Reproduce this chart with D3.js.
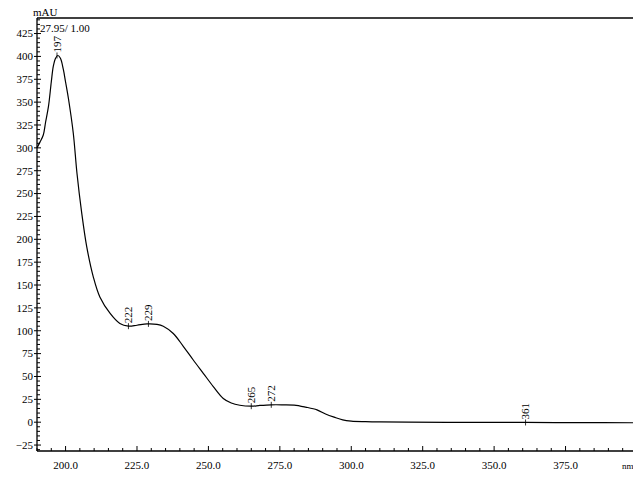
<!DOCTYPE html>
<html>
<head>
<meta charset="utf-8">
<script src="https://cdn.jsdelivr.net/npm/d3@7"></script>
<style>
  html, body { margin: 0; padding: 0; background: #fff; overflow: hidden; }
  text { font-family: "Liberation Serif", "DejaVu Serif", serif; fill: #000; }
</style>
</head>
<body>
<svg id="chart" width="633" height="477"></svg>
<script>
// ---- data ----
const wavelength = [190, 191, 192.2, 193, 194, 195, 195.7, 196.5, 197.3, 198.2, 199.2, 200, 201, 202.7, 204, 205.6, 207.4, 209.7, 212, 215.6, 219, 222, 225, 228.5, 232, 234.2, 237.7, 241.2, 244.7, 248.2, 251.7, 255.2, 258, 261, 265, 268, 272, 276, 280, 284, 288, 291, 294, 297, 300, 305, 310, 320, 340, 361, 380, 400];
const absorbance = [300, 306, 314, 328, 345, 372, 389, 398, 401, 398, 386, 372, 354, 316, 272, 230, 192, 159, 137, 119, 108, 105, 106, 107.5, 107, 105, 97, 83, 68, 53.5, 39, 26, 21, 18.5, 17.5, 18.3, 19, 19, 18.7, 16.5, 13.5, 9, 5.5, 2.5, 1.2, 0.6, 0.3, 0.1, -0.2, -0.3, -0.5, -0.6];
const peakLabels = [197, 222, 229, 265, 272, 361];
const peakValues = [401, 105, 107.5, 17.5, 19, -0.3];
const xTickValues = [200, 225, 250, 275, 300, 325, 350, 375];
const yTickValues = [-25, 0, 25, 50, 75, 100, 125, 150, 175, 200, 225, 250, 275, 300, 325, 350, 375, 400, 425];
const yUnit = "mAU";
const xUnit = "nm";
const headerText = "27.95/ 1.00";

// ---- layout ----
const svg = d3.select("#chart");
const mLeft = 37, mTop = 18, mBottom = 451;
const x = d3.scaleLinear().domain([190, 400]).range([mLeft, mLeft + 210 * 2.857]);
const y = d3.scaleLinear().domain([-31.5, 442]).range([mBottom, mTop]);

// axes frame
svg.append("line").attr("x1", mLeft).attr("x2", 633).attr("y1", mTop).attr("y2", mTop)
  .attr("stroke", "#000").attr("stroke-width", 1.3);
svg.append("line").attr("x1", mLeft).attr("x2", 633).attr("y1", mBottom).attr("y2", mBottom)
  .attr("stroke", "#000").attr("stroke-width", 1.3);
svg.append("line").attr("x1", mLeft).attr("x2", mLeft).attr("y1", mTop).attr("y2", mBottom)
  .attr("stroke", "#000").attr("stroke-width", 1.3);

// x ticks (inward)
const xMinor = d3.range(190, 401, 5);
svg.append("g").selectAll("line").data(xMinor).join("line")
  .attr("x1", d => x(d)).attr("x2", d => x(d))
  .attr("y1", mBottom).attr("y2", d => (d % 25 === 0) ? mBottom - 5 : mBottom - 3)
  .attr("stroke", "#000").attr("stroke-width", 1);
svg.append("g").selectAll("text").data(xTickValues).join("text")
  .attr("x", d => x(d)).attr("y", mBottom + 18)
  .attr("text-anchor", "middle").attr("font-size", 11)
  .text(d => d3.format(".1f")(d));
svg.append("text").attr("x", 622).attr("y", mBottom + 18).attr("font-size", 9).text(xUnit);

// y ticks
const yMinor = d3.range(-30, 441, 5);
svg.append("g").selectAll("line").data(yMinor).join("line")
  .attr("x1", d => (d % 25 === 0) ? mLeft - 3 : mLeft)
  .attr("x2", d => (d % 25 === 0) ? mLeft + 4 : mLeft + 3)
  .attr("y1", d => y(d)).attr("y2", d => y(d))
  .attr("stroke", "#000").attr("stroke-width", 1);
svg.append("g").selectAll("text").data(yTickValues).join("text")
  .attr("x", mLeft - 4).attr("y", d => y(d)).attr("dy", "0.35em")
  .attr("text-anchor", "end").attr("font-size", 11)
  .text(d => d < 0 ? "\u2212" + Math.abs(d) : d);
svg.append("text").attr("x", 33).attr("y", 16).attr("font-size", 11).text(yUnit);
svg.append("text").attr("x", 40).attr("y", 32).attr("font-size", 11).text(headerText);

// curve
const pts = wavelength.map((w, i) => [w, absorbance[i]]);
svg.append("path").datum(pts)
  .attr("fill", "none").attr("stroke", "#000").attr("stroke-width", 1.2)
  .attr("d", d3.line().x(d => x(d[0])).y(d => y(d[1])).curve(d3.curveCatmullRom.alpha(0.5)));

// peak labels
const peaks = peakLabels.map((p, i) => ({ p, v: peakValues[i] }));
const pg = svg.append("g");
pg.selectAll("line").data(peaks).join("line")
  .attr("x1", d => x(d.p)).attr("x2", d => x(d.p))
  .attr("y1", d => y(d.v) - 3).attr("y2", d => y(d.v) + 3)
  .attr("stroke", "#000").attr("stroke-width", 0.8);
pg.selectAll("text").data(peaks).join("text")
  .attr("transform", d => `translate(${x(d.p)},${y(d.v) - 3}) rotate(-90)`)
  .attr("dy", "0.35em").attr("font-size", 11)
  .text(d => d.p);
</script>
</body>
</html>
